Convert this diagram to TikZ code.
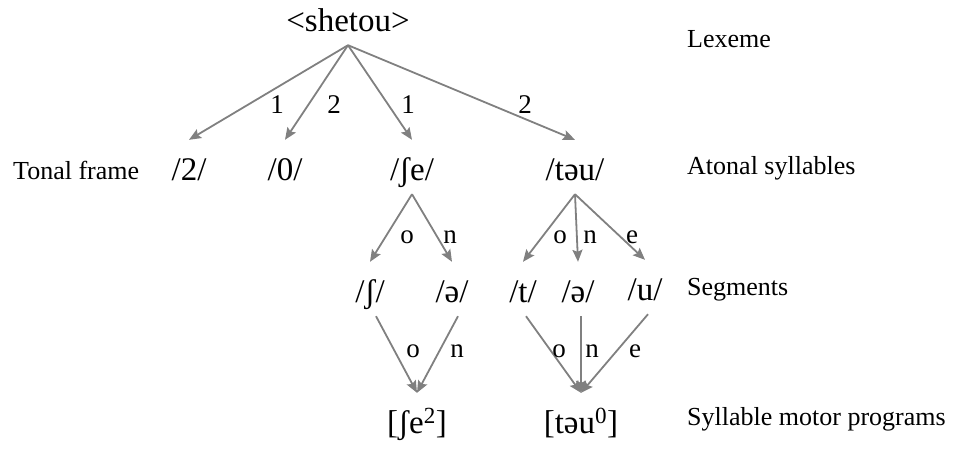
\documentclass[tikz,border=0pt]{standalone}
\usepackage{fontspec}
\setmainfont{Liberation Serif}
\usetikzlibrary{arrows.meta}
\definecolor{edgegray}{RGB}{128,128,128}
\begin{document}
\begin{tikzpicture}[x=1pt,y=-1pt,
  unit/.style={font=\fontsize{33}{38}\selectfont, inner xsep=0pt, inner ysep=14pt, text height=26pt, text depth=0pt, anchor=base},
  tier/.style={font=\fontsize{26}{30}\selectfont, inner sep=0pt, anchor=base west},
  lbl/.style={font=\fontsize{27}{32}\selectfont, inner sep=0pt, anchor=base},
  link/.style={draw=edgegray, line width=1.8pt, -{Stealth[length=12pt,width=10pt,inset=2pt]}}]
\useasboundingbox (0,0) rectangle (956,448);
\def\yA{31};
\def\yB{180};
\def\yC{302};
\def\yD{433};
\def\xT{687};
% tiers
\node[tier] (lexeme) at (\xT,47) {Lexeme};
\node[tier] (atonal) at (\xT,174) {Atonal syllables};
\node[tier] (segs) at (\xT,295) {Segments};
\node[tier] (motor) at (\xT,425) {Syllable motor programs};
\node[tier] (tonal) at (13,179) {Tonal frame};
% units
\node[unit] (lex) at (348,\yA) {<shetou>};
\node[unit] (tA) at (189,\yB) {/2/};
\node[unit] (tB) at (285,\yB) {/0/};
\node[unit] (sA) at (412,\yB) {/ʃe/};
\node[unit] (sB) at (575,\yB) {/təu/};
\node[unit] (sAo) at (370,\yC) {/ʃ/};
\node[unit] (sAn) at (452,\yC) {/ə/};
\node[unit] (sBo) at (523,\yC) {/t/};
\node[unit] (sBn) at (578,\yC) {/ə/};
\node[unit] (sBe) at (645,300) {/u/};
\node[unit] (pA) at (417,\yD) {[ʃe\textsuperscript{2}]};
\node[unit] (pB) at (581,\yD) {[təu\textsuperscript{0}]};
% links
\foreach \t in {tA,tB,sA,sB} \draw[link] (lex.south) -- (\t.north);
\foreach \t in {sAo,sAn} \draw[link] (sA.south) -- (\t.north);
\foreach \t in {sBo,sBn,sBe} \draw[link] (sB.south) -- (\t.north);
\foreach \s in {sAo,sAn} \draw[link] ([xshift=6pt]\s.south) -- (pA.north);
\foreach \s in {sBo,sBn,sBe} \draw[link] ([xshift=3pt]\s.south) -- (pB.north);
% labels
\node[lbl] (nA) at (277,113) {1};
\node[lbl] (nB) at (334,113) {2};
\node[lbl] (nC) at (408,113) {1};
\node[lbl] (nD) at (525,113) {2};
\node[lbl] (oA) at (407,243) {o};
\node[lbl] (nnA) at (450,243) {n};
\node[lbl] (oB) at (560,243) {o};
\node[lbl] (nnB) at (590,243) {n};
\node[lbl] (eB) at (632,243) {e};
\node[lbl] (oC) at (413,357) {o};
\node[lbl] (nnC) at (457,357) {n};
\node[lbl] (oD) at (559,357) {o};
\node[lbl] (nnD) at (592,357) {n};
\node[lbl] (eD) at (635,357) {e};
\end{tikzpicture}
\end{document}
